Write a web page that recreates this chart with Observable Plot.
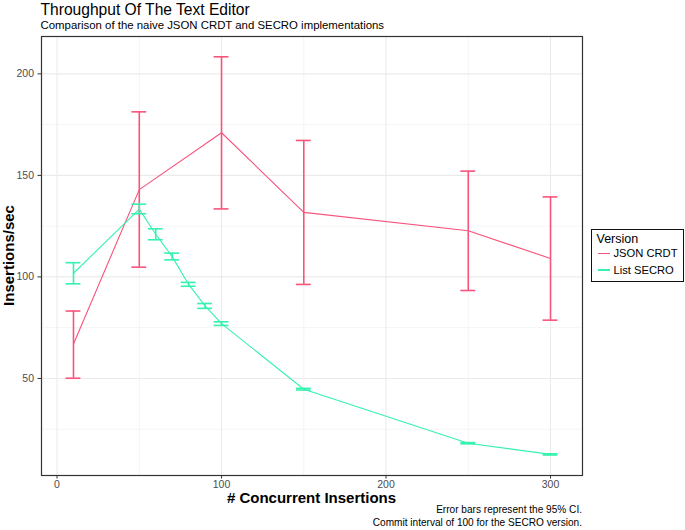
<!DOCTYPE html>
<html><head><meta charset="utf-8">
<script src="https://cdn.jsdelivr.net/npm/d3@7"></script>
<script src="https://cdn.jsdelivr.net/npm/@observablehq/plot@0.6"></script>
<style>
html,body{margin:0;padding:0;background:#fff;}
#wrap{position:relative;width:685px;height:530px;font-family:"Liberation Sans",Arial,Helvetica,sans-serif;overflow:hidden;background:#fff;}
#wrap svg{position:absolute;left:0;top:0;}
.t{position:absolute;white-space:nowrap;line-height:1;}
</style></head><body><div id="wrap"></div>
<script>
// ---- data ----
const versions = ["JSON CRDT", "List SECRO"];
const versionColors = ["#F8537B", "#35F2AE"];

const jsonX    = [10, 50, 100, 150, 250, 300];
const jsonMean = [67, 143, 171, 131.8, 122.7, 109.1];
const jsonLo   = [50.1, 104.8, 133.5, 96.3, 93.3, 78.7];
const jsonHi   = [83.2, 181.3, 208.4, 167.2, 152.1, 139.4];

const secroX    = [10, 50, 60, 70, 80, 90, 100, 150, 250, 300];
const secroMean = [101.8, 133.4, 121, 110, 96.3, 85.7, 77, 44.7, 18.1, 12.6];
const secroLo   = [96.6, 131.1, 118.3, 108.4, 95.4, 84.5, 76.1, 44.3, 17.8, 12.3];
const secroHi   = [107, 135.8, 123.7, 111.7, 97.3, 86.9, 77.9, 45.1, 18.4, 12.9];

const xTicks = [0, 100, 200, 300];
const xMinor = [50, 150, 250];
const yTicks = [50, 100, 150, 200];
const yMinor = [25, 75, 125, 175];

const titleText = "Throughput Of The Text Editor";
const subtitleText = "Comparison of the naive JSON CRDT and SECRO implementations";
const captionLines = ["Error bars represent the 95% CI.", "Commit interval of 100 for the SECRO version."];
const xTitle = "# Concurrent Insertions";
const yTitle = "Insertions/sec";
const legendTitle = "Version";

// ---- build table ----
const rows = [];
jsonX.forEach((x, i) => rows.push({version: versions[0], x, mean: jsonMean[i], lo: jsonLo[i], hi: jsonHi[i]}));
secroX.forEach((x, i) => rows.push({version: versions[1], x, mean: secroMean[i], lo: secroLo[i], hi: secroHi[i]}));

const capHalf = 4.5; // errorbar width 9 (data units), as in ggplot
const barW = 1.6;

const chart = Plot.plot({
  width: 685, height: 530,
  marginLeft: 41, marginRight: 103, marginTop: 36, marginBottom: 55,
  style: {fontFamily: '"Liberation Sans", Arial, sans-serif', background: "transparent", overflow: "visible"},
  x: {domain: [-9.45, 319.45]},
  y: {domain: [2.2, 218.4]},
  color: {domain: versions, range: versionColors},
  marks: [
    Plot.ruleX(xMinor, {stroke: "#ebebeb", strokeWidth: 0.55}),
    Plot.ruleY(yMinor, {stroke: "#ebebeb", strokeWidth: 0.55}),
    Plot.ruleX(xTicks, {stroke: "#ebebeb", strokeWidth: 1.1}),
    Plot.ruleY(yTicks, {stroke: "#ebebeb", strokeWidth: 1.1}),
    Plot.line(rows, {x: "x", y: "mean", z: "version", stroke: "version", strokeWidth: 1.1}),
    Plot.ruleX(rows, {x: "x", y1: "lo", y2: "hi", stroke: "version", strokeWidth: barW}),
    Plot.ruleY(rows, {y: "hi", x1: d => d.x - capHalf, x2: d => d.x + capHalf, stroke: "version", strokeWidth: barW}),
    Plot.ruleY(rows, {y: "lo", x1: d => d.x - capHalf, x2: d => d.x + capHalf, stroke: "version", strokeWidth: barW}),
    Plot.frame({stroke: "#333", strokeWidth: 1.2}),
    Plot.axisX({ticks: xTicks, tickSize: 3.5, tickPadding: 1.5, fontSize: 10.5, color: "#4d4d4d", stroke: "#333", label: null}),
    Plot.axisY({ticks: yTicks, tickSize: 3.5, tickPadding: 4, fontSize: 10.5, color: "#4d4d4d", stroke: "#333", label: null})
  ]
});

const wrap = document.getElementById("wrap");
wrap.appendChild(chart);

function addText(txt, css) {
  const d = document.createElement("div");
  d.className = "t";
  d.textContent = txt;
  Object.assign(d.style, css);
  wrap.appendChild(d);
  return d;
}
// baseline -> top: top = baseline - 0.8465*fontSize (line-height 1)
function topFor(baseline, f) { return (baseline - 0.8465 * f) + "px"; }

addText(titleText, {left: "40.5px", top: topFor(15, 15.6), fontSize: "15.6px", color: "#000"});
addText(subtitleText, {left: "40.5px", top: topFor(29.5, 11.4), fontSize: "11.4px", color: "#000"});
addText(xTitle, {left: "41px", width: "541px", textAlign: "center", top: topFor(503, 15), fontSize: "15px", fontWeight: "bold", color: "#000"});
addText(yTitle, {left: (8 - 100) + "px", width: "200px", textAlign: "center", top: (255.5 - 7.5) + "px", height: "15px", fontSize: "15px", fontWeight: "bold", color: "#000", transform: "rotate(-90deg)"});
captionLines.forEach((line, i) => {
  addText(line, {right: (685 - 582) + "px", textAlign: "right", top: topFor(513.5 + i * 13, 10.1), fontSize: "10.1px", color: "#000"});
});

// legend
const box = document.createElement("div");
Object.assign(box.style, {position: "absolute", left: "591px", top: "229px", width: "93px", height: "53px", border: "1px solid #111", boxSizing: "border-box"});
wrap.appendChild(box);
addText(legendTitle, {left: "596.5px", top: topFor(244, 12.5), fontSize: "12.5px", color: "#000"});
versions.forEach((v, i) => {
  const ky = 253.3 + i * 16.7;
  const k = document.createElement("div");
  Object.assign(k.style, {position: "absolute", left: "598px", top: (ky - 0.6) + "px", width: "12px", height: "1.2px", background: versionColors[i]});
  wrap.appendChild(k);
  addText(v, {left: "613.5px", top: topFor(ky + 4.5, 11.2), fontSize: "11.2px", color: "#000"});
});
</script>
</body></html>
